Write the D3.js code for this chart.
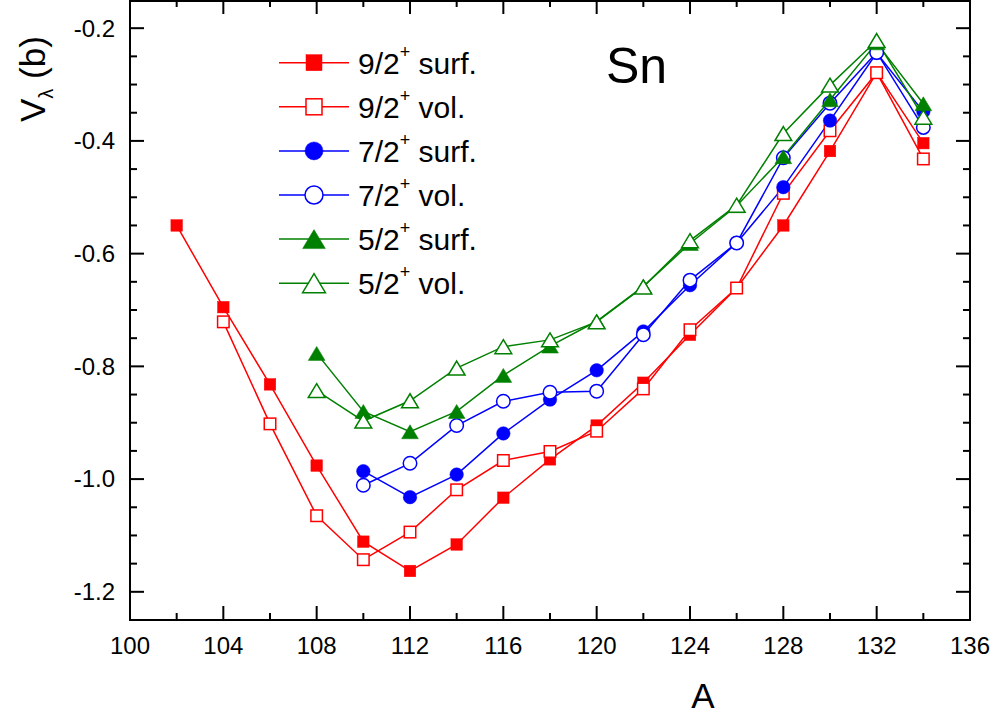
<!DOCTYPE html>
<html>
<head>
<meta charset="utf-8">
<script src="https://cdn.jsdelivr.net/npm/d3@7"></script>
<style>
  html, body { margin: 0; padding: 0; background: #fff; }
  svg { display: block; font-family: "Liberation Sans", Arial, sans-serif; }
</style>
</head>
<body>
<svg id="chart" width="997" height="719"></svg>
<script>
// ---- data ----
const massA = [102, 104, 106, 108, 110, 112, 114, 116, 118, 120, 122, 124, 126, 128, 130, 132, 134];
const surf92 = [-0.550, -0.695, -0.832, -0.976, -1.111, -1.163, -1.116, -1.033, -0.965, -0.905, -0.829, -0.744, -0.661, -0.550, -0.418, -0.279, -0.404];
const vol92  = [null, -0.721, -0.902, -1.065, -1.143, -1.094, -1.019, -0.967, -0.951, -0.915, -0.840, -0.735, -0.661, -0.493, -0.382, -0.279, -0.432];
const surf72 = [null, null, null, null, -0.986, -1.032, -0.992, -0.919, -0.859, -0.807, -0.738, -0.656, -0.581, -0.482, -0.364, -0.244, -0.348];
const vol72  = [null, null, null, null, -1.011, -0.972, -0.905, -0.862, -0.846, -0.844, -0.744, -0.647, -0.581, -0.430, -0.333, -0.243, -0.376];
const surf52 = [null, null, null, -0.777, -0.880, -0.916, -0.880, -0.816, -0.764, -0.720, -0.658, -0.582, -0.515, -0.428, -0.327, -0.226, -0.334];
const vol52  = [null, null, null, -0.843, -0.897, -0.861, -0.803, -0.765, -0.753, -0.721, -0.659, -0.577, -0.514, -0.387, -0.301, -0.222, -0.358];

const seriesNames = ["9/2", "9/2", "7/2", "7/2", "5/2", "5/2"];
const seriesKinds = ["surf.", "vol.", "surf.", "vol.", "surf.", "vol."];
const xTicks = [100, 104, 108, 112, 116, 120, 124, 128, 132, 136];
const yTicks = [-1.2, -1.0, -0.8, -0.6, -0.4, -0.2];

const series = [
  { name: seriesNames[0], kind: seriesKinds[0], values: surf92, color: "#ff0000", shape: "square", filled: true },
  { name: seriesNames[1], kind: seriesKinds[1], values: vol92,  color: "#ff0000", shape: "square", filled: false },
  { name: seriesNames[2], kind: seriesKinds[2], values: surf72, color: "#0000ff", shape: "circle", filled: true },
  { name: seriesNames[3], kind: seriesKinds[3], values: vol72,  color: "#0000ff", shape: "circle", filled: false },
  { name: seriesNames[4], kind: seriesKinds[4], values: surf52, color: "#008000", shape: "triangle", filled: true },
  { name: seriesNames[5], kind: seriesKinds[5], values: vol52,  color: "#008000", shape: "triangle", filled: false }
];

// ---- layout ----
const L = 130, R = 970, T = 0, B = 620;
const svg = d3.select("#chart");
const x = d3.scaleLinear().domain([100, 136]).range([L, R]);
const y = d3.scaleLinear().domain([-1.25, -0.15]).range([B, T]);

// markers
function markerPath(shape, s) {
  if (shape === "triangle") {
    const w = s * 1.2, h = s;
    return `M0,${-h/2}L${w/2},${h/2}L${-w/2},${h/2}Z`;
  }
  return null;
}
function drawMarker(g, shape, filled, color, s) {
  const fill = filled ? color : "#fff";
  if (shape === "square") {
    g.append("rect").attr("x", -s/2).attr("y", -s/2).attr("width", s).attr("height", s)
      .attr("fill", fill).attr("stroke", color).attr("stroke-width", filled ? 0.5 : 1.5);
  } else if (shape === "circle") {
    g.append("circle").attr("r", s/2).attr("fill", fill).attr("stroke", color).attr("stroke-width", filled ? 0.5 : 1.5);
  } else {
    g.append("path").attr("d", markerPath(shape, s)).attr("fill", fill).attr("stroke", color)
      .attr("stroke-width", filled ? 0.5 : 1.5).attr("stroke-linejoin", "miter");
  }
}

const plot = svg.append("g");
const line = d3.line().defined(d => d.v !== null).x(d => x(d.a)).y(d => y(d.v));
const markerSize = { square: 11.5, circle: 13.5, triangle: 14 };

series.forEach(s => {
  const pts = massA.map((a, i) => ({ a, v: s.values[i] }));
  plot.append("path").datum(pts).attr("d", line)
    .attr("fill", "none").attr("stroke", s.color).attr("stroke-width", 1.5);
});
series.forEach(s => {
  const pts = massA.map((a, i) => ({ a, v: s.values[i] })).filter(d => d.v !== null);
  pts.forEach(d => {
    const g = plot.append("g").attr("transform", `translate(${x(d.a)},${y(d.v)})`);
    drawMarker(g, s.shape, s.filled, s.color, markerSize[s.shape]);
  });
});

// ---- axes (ticks inward on all sides) ----
const axG = svg.append("g");
const xMinor = d3.range(100, 137, 2);
const yMinor = d3.range(-1.25, -0.149, 0.05).map(v => +v.toFixed(2));
const isMajorX = v => v % 4 === 0;
const isMajorY = v => Math.abs(Math.round(v * 5) - v * 5) < 1e-6;

xMinor.forEach(v => {
  const len = isMajorX(v) ? 14 : 7;
  axG.append("line").attr("x1", x(v)).attr("x2", x(v)).attr("y1", B).attr("y2", B - len)
    .attr("stroke", "#000").attr("stroke-width", 2);
  axG.append("line").attr("x1", x(v)).attr("x2", x(v)).attr("y1", T).attr("y2", T + len)
    .attr("stroke", "#000").attr("stroke-width", 2);
});
yMinor.forEach(v => {
  const len = isMajorY(v) ? 14 : 7;
  axG.append("line").attr("x1", L).attr("x2", L + len).attr("y1", y(v)).attr("y2", y(v))
    .attr("stroke", "#000").attr("stroke-width", 2);
  axG.append("line").attr("x1", R).attr("x2", R - len).attr("y1", y(v)).attr("y2", y(v))
    .attr("stroke", "#000").attr("stroke-width", 2);
});
axG.append("rect").attr("x", L).attr("y", T + 1).attr("width", R - L).attr("height", B - T - 1)
  .attr("fill", "none").attr("stroke", "#000").attr("stroke-width", 2);

// tick labels
xTicks.forEach(v => {
  axG.append("text").attr("x", x(v)).attr("y", 654).attr("text-anchor", "middle")
    .attr("font-size", 24).attr("fill", "#000").text(v);
});
yTicks.forEach(v => {
  axG.append("text").attr("x", 115).attr("y", y(v)).attr("dy", "0.35em").attr("text-anchor", "end")
    .attr("font-size", 24).attr("fill", "#000").text(d3.format(".1f")(v).replace("−", "-"));
});

// axis titles
svg.append("text").attr("x", 703).attr("y", 708).attr("text-anchor", "middle")
  .attr("font-size", 35).attr("fill", "#000").text("A");

const yl = svg.append("text").attr("transform", "translate(45,122) rotate(-90)")
  .attr("font-size", 35).attr("fill", "#000");
yl.append("tspan").text("V");
yl.append("tspan").attr("font-size", 20).attr("dy", 8).text("λ");
yl.append("tspan").attr("dy", -8).text(" (b)");

// "Sn" label
svg.append("text").attr("x", 606).attr("y", 83).attr("font-size", 50).attr("fill", "#000").text("Sn");

// ---- legend ----
const legY0 = 62.7, legDy = 44.1;
const legMarkerSize = { square: 16, circle: 18, triangle: 19 };
series.forEach((s, i) => {
  const cy = legY0 + i * legDy;
  const g = svg.append("g");
  g.append("line").attr("x1", 279).attr("x2", 349).attr("y1", cy).attr("y2", cy)
    .attr("stroke", s.color).attr("stroke-width", 1.5);
  const mg = g.append("g").attr("transform", `translate(314,${cy})`);
  drawMarker(mg, s.shape, s.filled, s.color, legMarkerSize[s.shape]);
  const t = g.append("text").attr("x", 358).attr("y", cy + 10.8).attr("font-size", 30).attr("fill", "#000");
  t.append("tspan").text(s.name);
  t.append("tspan").attr("font-size", 18).attr("dy", -16).text("+");
  t.append("tspan").attr("dy", 16).text(" " + s.kind);
});
</script>
</body>
</html>
